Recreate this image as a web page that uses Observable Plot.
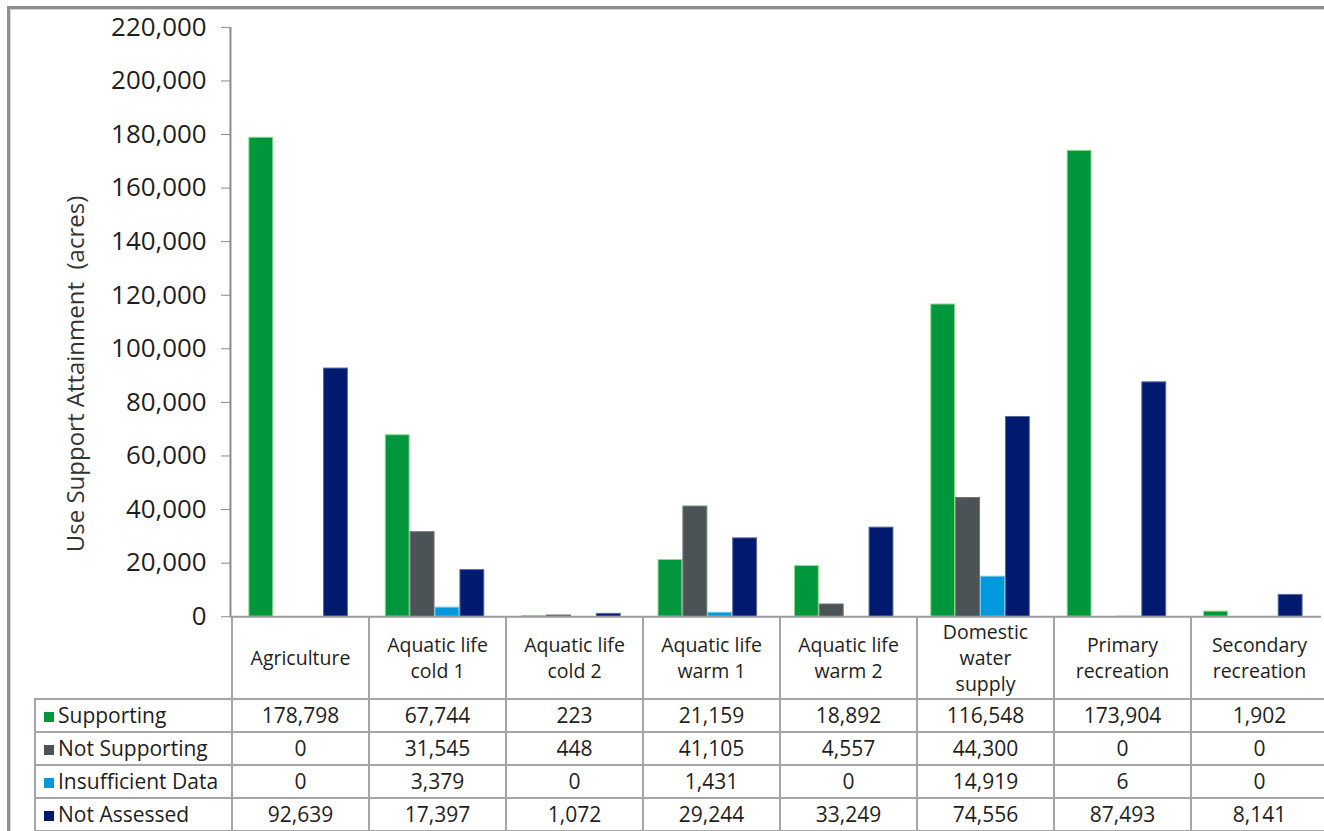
<!DOCTYPE html>
<html>
<head>
<meta charset="utf-8">
<script src="https://cdn.jsdelivr.net/npm/d3@7"></script>
<script src="https://cdn.jsdelivr.net/npm/@observablehq/plot@0.6"></script>
<style>
  html, body { margin:0; padding:0; background:#fff; overflow:hidden; width:1324px; height:831px; }
  #frame { position:absolute; left:7px; top:6px; width:1400px; height:900px;
           border-top:3px solid #8f8f8f; border-left:3px solid #8f8f8f;
           box-shadow: inset 1px 1px 0 #d4d4d4; }
  #chart { position:absolute; left:0; top:0; }
  #ylabel { position:absolute; left:74px; top:374px; transform:translate(-50%,-50%) rotate(-90deg);
            white-space:pre; font-family:"Open Sans", sans-serif; font-size:24px; color:#333; }
  #tbl { position:absolute; left:34px; top:617px; border-collapse:collapse; table-layout:fixed;
         width:1293px; font-family:"Open Sans", sans-serif; font-size:21px; color:#1e1e1e; }
  #tbl td { border:2px solid #a5a5a5; text-align:center; padding:0; height:31px; line-height:1; white-space:nowrap; overflow:hidden; }
  #tbl tr.head td { height:80px; border-top:none; font-size:19.5px; line-height:26px; white-space:normal; padding-top:1px; }
  #tbl tr.head td div { height:26px; }
  #tbl tr.head td.blank { border-left:none; }
  #tbl td.leg { text-align:left; padding-left:8px; }
  #tbl td.leg span.key { display:inline-block; width:10px; height:10px; margin-right:4px; vertical-align:1px; }
  g[aria-label^="y-axis"] line, g[aria-label="y-axis tick"] path { stroke:#8a8a8a; }
</style>
</head>
<body>
<div id="frame"></div>
<div id="chart"></div>
<div id="ylabel">Use Support Attainment  (acres)</div>
<table id="tbl"></table>
<script>
// ---- data ----
const categories = ["Agriculture", "Aquatic life cold 1", "Aquatic life cold 2", "Aquatic life warm 1",
  "Aquatic life warm 2", "Domestic water supply", "Primary recreation", "Secondary recreation"];
const categoryLines = [["Agriculture"], ["Aquatic life", "cold 1"], ["Aquatic life", "cold 2"], ["Aquatic life", "warm 1"],
  ["Aquatic life", "warm 2"], ["Domestic", "water", "supply"], ["Primary", "recreation"], ["Secondary", "recreation"]];
const seriesNames = ["Supporting", "Not Supporting", "Insufficient Data", "Not Assessed"];
const supporting      = [178798, 67744, 223, 21159, 18892, 116548, 173904, 1902];
const notSupporting   = [0, 31545, 448, 41105, 4557, 44300, 0, 0];
const insufficient    = [0, 3379, 0, 1431, 0, 14919, 6, 0];
const notAssessed     = [92639, 17397, 1072, 29244, 33249, 74556, 87493, 8141];
const yTicks = [0, 20000, 40000, 60000, 80000, 100000, 120000, 140000, 160000, 180000, 200000, 220000];
const colors  = ["#00963c", "#4b5356", "#0099dd", "#001a70"];
const strokes = ["#8fdc8f", "#6c7477", "#6cc6ef", "#5a6aa6"];

const seriesValues = [supporting, notSupporting, insufficient, notAssessed];
const rows = categories.flatMap((c, i) => seriesValues.map((vals, s) => ({category: c, series: seriesNames[s], value: vals[i]})));

// ---- chart ----
const band = 137, barW = 25, offset = (band - 4 * barW) / 2;
const fmt = d3.format(",");

const barMarks = seriesNames.map((name, i) =>
  Plot.barY(rows.filter(d => d.series === name && d.value > 0), {
    x: "category", y: "value", fill: colors[i], stroke: strokes[i], strokeWidth: 1,
    insetLeft: offset + barW * i + 0.5, insetRight: band - offset - barW * (i + 1) + 0.5
  })
);

const chart = Plot.plot({
  width: 1330, height: 623,
  marginLeft: 231, marginRight: 3, marginTop: 27, marginBottom: 4,
  style: {fontFamily: "Open Sans, sans-serif", fontSize: "26px", color: "#1e1e1e", background: "transparent", overflow: "visible"},
  x: {domain: categories, padding: 0, axis: null},
  y: {domain: [0, 220000], ticks: yTicks, tickFormat: fmt, tickSize: 9, tickPadding: 15, label: null},
  marks: [
    ...barMarks,
    Plot.ruleX([categories[0]], {dx: -band / 2, y1: 0, y2: 220000, stroke: "#8a8a8a", strokeWidth: 2}),
    Plot.ruleY([0], {stroke: "#9a9a9a", strokeWidth: 2})
  ]
});
document.getElementById("chart").appendChild(chart);

// ---- data table ----
const tbl = document.getElementById("tbl");
const colgroup = document.createElement("colgroup");
[197, ...categories.map(() => band)].forEach(w => {
  const col = document.createElement("col"); col.style.width = w + "px"; colgroup.appendChild(col);
});
tbl.appendChild(colgroup);
const head = document.createElement("tr"); head.className = "head";
const blank = document.createElement("td"); blank.className = "blank"; head.appendChild(blank);
categoryLines.forEach(lines => {
  const td = document.createElement("td");
  lines.forEach(line => { const div = document.createElement("div"); div.textContent = line; td.appendChild(div); });
  head.appendChild(td);
});
tbl.appendChild(head);
seriesNames.forEach((name, s) => {
  const tr = document.createElement("tr");
  const leg = document.createElement("td"); leg.className = "leg";
  const key = document.createElement("span"); key.className = "key"; key.style.background = colors[s];
  leg.appendChild(key); leg.appendChild(document.createTextNode(name));
  tr.appendChild(leg);
  seriesValues[s].forEach(v => {
    const td = document.createElement("td"); td.textContent = fmt(v); tr.appendChild(td);
  });
  tbl.appendChild(tr);
});
</script>
</body>
</html>
